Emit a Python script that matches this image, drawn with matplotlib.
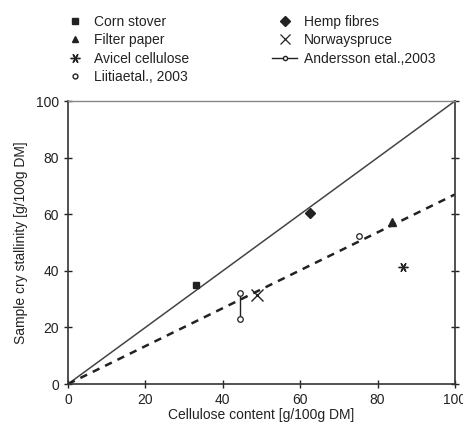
import matplotlib
matplotlib.use("Agg")
import matplotlib.pyplot as plt
from matplotlib.lines import Line2D

plt.rcParams['font.family'] = ['Liberation Sans', 'DejaVu Sans']

# =============================================================================
# Data
# =============================================================================

corn_x, corn_y = [33], [35]
hemp_x, hemp_y = [62.5], [60.4]
filter_x, filter_y = [83.6], [57.3]
spruce_x, spruce_y = [48.8], [31.3]
avicel_x, avicel_y = [86.5], [41.3]
liitia_x = [44.5, 44.5, 75.2]
liitia_y = [32.2, 23.0, 52.3]

# 1:1 line and Andersson et al. fit
ident_x, ident_y = [0, 100], [0, 100]
anders_x, anders_y = [0, 100], [0, 67]

ticks = [0, 20, 40, 60, 80, 100]

# =============================================================================
# Plot
# =============================================================================

fig = plt.figure(figsize=(4.64, 4.34), dpi=100)
ax = fig.add_axes([0.1466, 0.1152, 0.8340, 0.6520])

ink = "#222222"

ax.plot(ident_x, ident_y, color="#444444", lw=1.1, clip_on=False)
ax.plot(anders_x, anders_y, color=ink, lw=1.8, ls=(0, (3, 2.5)))

# Liitia pair joined by a vertical bar
ax.plot(liitia_x[:2], liitia_y[:2], color=ink, lw=1.0)
ax.plot(liitia_x, liitia_y, ls="none", marker="o", ms=4, mfc="white",
        mec=ink, mew=0.9)

ax.plot(corn_x, corn_y, ls="none", marker="s", ms=4.5, color=ink)
ax.plot(hemp_x, hemp_y, ls="none", marker="D", ms=5.5, color=ink)
ax.plot(filter_x, filter_y, ls="none", marker="^", ms=5.5, color=ink)
ax.plot(spruce_x, spruce_y, ls="none", marker="x", ms=8, mew=1.0, color=ink)
ax.plot(avicel_x, avicel_y, ls="none", marker=(6, 2, 90), ms=7, mew=1.0,
        color=ink)

ax.set_xlim(0, 100)
ax.set_ylim(0, 100)
ax.set_xticks(ticks)
ax.set_yticks(ticks)
ax.tick_params(labelsize=10, colors=ink, direction="inout", length=6,
               right=True, width=1.0)
ax.tick_params(axis="y", labelright=False)

for side in ["left", "bottom", "right"]:
    ax.spines[side].set_color("#333333")
    ax.spines[side].set_linewidth(1.2)
ax.spines["top"].set_color("#888888")
ax.spines["top"].set_linewidth(1.0)

ax.set_xlabel("Cellulose content [g/100g DM]", fontsize=10, color=ink,
              labelpad=1)
ax.set_ylabel("Sample cry stallinity [g/100g DM]", fontsize=10, color=ink,
              labelpad=6)

# =============================================================================
# Legend
# =============================================================================

handles = [
    Line2D([], [], ls="none", marker="s", ms=4, color=ink),
    Line2D([], [], ls="none", marker="^", ms=5, color=ink),
    Line2D([], [], ls="none", marker=(6, 2, 90), ms=7, mew=1.0, color=ink),
    Line2D([], [], ls="none", marker="o", ms=3.5, mfc="white", mec=ink),
    Line2D([], [], ls="none", marker="D", ms=5, color=ink),
    Line2D([], [], ls="none", marker="x", ms=7, mew=0.9, color=ink),
    Line2D([], [], ls="-", lw=1.0, marker="o", ms=3, mfc="white", mec=ink,
           color=ink),
]
labels = ["Corn stover", "Filter paper", "Avicel cellulose",
          "Liitiaetal., 2003", "Hemp fibres", "Norwayspruce",
          "Andersson etal.,2003"]

fig.legend(handles, labels, ncol=2, loc="upper left",
           bbox_to_anchor=(0.108, 0.995), frameon=False, fontsize=10,
           handlelength=1.8, handletextpad=0.45, columnspacing=6.0,
           labelspacing=0.32, labelcolor=ink)

fig.savefig("out.png", dpi=100)
